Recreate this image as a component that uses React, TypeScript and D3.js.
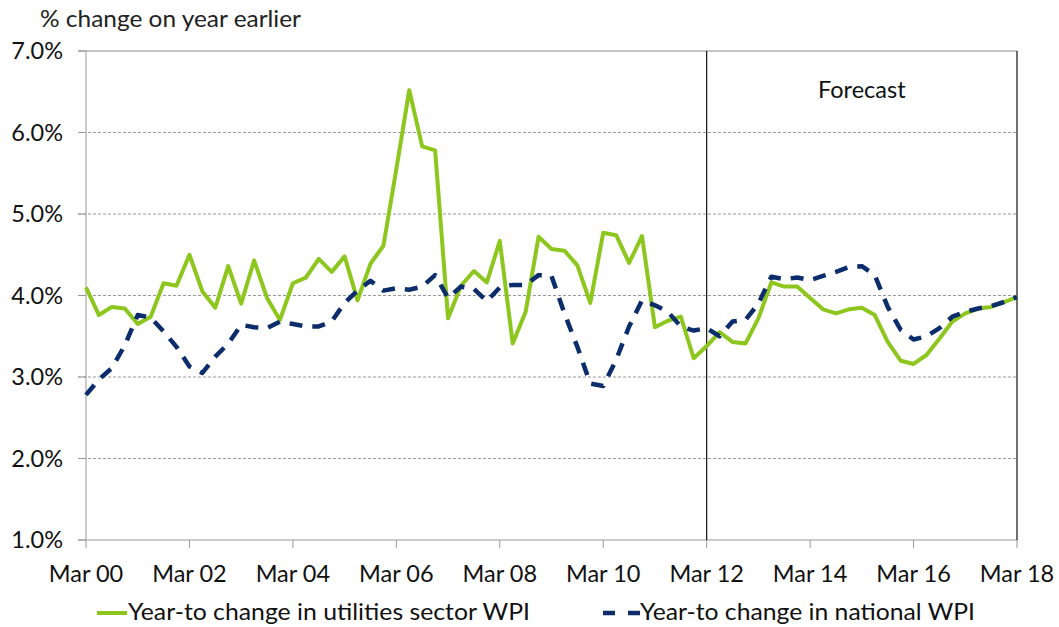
import * as d3 from 'd3';

// quarterly, Mar 00 .. Mar 18
const utilities = [
  4.10, 3.76, 3.86, 3.84, 3.65, 3.74, 4.15, 4.12, 4.50, 4.05, 3.85, 4.36, 3.90, 4.43, 3.97, 3.70,
  4.15, 4.22, 4.45, 4.29, 4.48, 3.94, 4.39, 4.61, 5.55, 6.52, 5.83, 5.78, 3.72, 4.12, 4.30, 4.16,
  4.67, 3.41, 3.80, 4.72, 4.57, 4.55, 4.37, 3.91, 4.77, 4.74, 4.40, 4.73, 3.61, 3.69, 3.74, 3.23,
  3.38, 3.55, 3.43, 3.41, 3.72, 4.16, 4.11, 4.11, 3.97, 3.83, 3.78, 3.83, 3.85, 3.76, 3.43, 3.20,
  3.16, 3.27, 3.47, 3.68, 3.78, 3.84, 3.86, 3.92, 3.98,
];
const national = [
  2.78, 2.97, 3.11, 3.39, 3.76, 3.73, 3.56, 3.37, 3.13, 3.05, 3.25, 3.41, 3.64, 3.61, 3.60, 3.68,
  3.65, 3.62, 3.62, 3.68, 3.91, 4.06, 4.18, 4.06, 4.09, 4.07, 4.11, 4.25, 3.97, 4.11, 4.08, 3.93,
  4.10, 4.13, 4.13, 4.25, 4.24, 3.78, 3.37, 2.92, 2.89, 3.21, 3.62, 3.94, 3.88, 3.80, 3.62, 3.57,
  3.60, 3.50, 3.68, 3.70, 3.90, 4.23, 4.20, 4.22, 4.19, 4.24, 4.29, 4.35, 4.36, 4.25, 3.86, 3.58,
  3.46, 3.50, 3.60, 3.74, 3.80, 3.84, 3.87, 3.92, 3.98,
];
const xTickLabels = ['Mar 00', 'Mar 02', 'Mar 04', 'Mar 06', 'Mar 08', 'Mar 10', 'Mar 12', 'Mar 14', 'Mar 16', 'Mar 18'];
const yTicks = [1, 2, 3, 4, 5, 6, 7];
const forecastStart = 'Mar 12';
const seriesNames = ['Year-to change in utilities sector WPI', 'Year-to change in national WPI'];

const W = 1059;
const H = 627;
const margin = { top: 51, right: 42, bottom: 87, left: 86 };
const font = 'Lato, "Open Sans", sans-serif';
const green = '#8DC71E';
const navy = '#0C2D6B';

export default function App() {
  const x = d3.scaleLinear()
    .domain([0, utilities.length - 1])
    .range([margin.left, W - margin.right]);
  const y = d3.scaleLinear()
    .domain([1, 7])
    .range([H - margin.bottom, margin.top]);

  const line = d3.line<number>()
    .x((_, i) => x(i))
    .y(d => y(d));

  const fmt = d3.format('.1%');
  const tickIdx = (i: number) => i * 8;
  const fcX = x(tickIdx(xTickLabels.indexOf(forecastStart)));

  return (
    <svg width={W} height={H} style={{ position: 'absolute', left: 0, top: 0, background: '#fff' }}>
      <text x={40} y={27} fontFamily={font} fontSize={24} fill="#222" textLength={261} lengthAdjust="spacingAndGlyphs">% change on year earlier</text>

      {/* grid + y ticks */}
      {yTicks.map(t => (
        <g key={t}>
          {t > 1 && (
            <line x1={78} x2={W - margin.right} y1={y(t)} y2={y(t)}
              stroke={t === 7 ? '#888' : '#999'} strokeWidth={1}
              strokeDasharray={t === 7 ? undefined : '3 2'} />
          )}
          <line x1={78} x2={margin.left} y1={y(t)} y2={y(t)} stroke="#999" />
          <text x={63} y={y(t)} dy="0.35em" textAnchor="end" fontFamily={font} fontSize={23.5} fill="#111">
            {fmt(t / 100)}
          </text>
        </g>
      ))}

      {/* axes */}
      <line x1={margin.left} x2={margin.left} y1={margin.top} y2={H - margin.bottom} stroke="#999" />
      <line x1={78} x2={W - margin.right} y1={y(1)} y2={y(1)} stroke="#999" />
      {xTickLabels.map((lab, i) => (
        <g key={lab}>
          <line x1={x(tickIdx(i))} x2={x(tickIdx(i))} y1={y(1)} y2={y(1) + 8} stroke="#999" />
          <text x={x(tickIdx(i))} y={582} textAnchor="middle" fontFamily={font} fontSize={23.5} fill="#111">{lab}</text>
        </g>
      ))}

      {/* forecast box */}
      <line x1={fcX} x2={fcX} y1={margin.top} y2={y(1)} stroke="#111" strokeWidth={1.2} />
      <line x1={W - margin.right} x2={W - margin.right} y1={margin.top} y2={y(1)} stroke="#111" strokeWidth={1.2} />
      <text x={(fcX + W - margin.right) / 2} y={98} textAnchor="middle" fontFamily={font} fontSize={23.5} fill="#111">Forecast</text>

      {/* series */}
      <path d={line(utilities) || ''} fill="none" stroke={green} strokeWidth={4} strokeLinejoin="round" />
      <path d={line(national) || ''} fill="none" stroke={navy} strokeWidth={4.5} strokeDasharray="13 10" strokeLinejoin="round" />

      {/* legend */}
      <line x1={97} x2={127} y1={613} y2={613} stroke={green} strokeWidth={4} />
      <text x={128} y={620} fontFamily={font} fontSize={23} fill="#111" textLength={402} lengthAdjust="spacingAndGlyphs">{seriesNames[0]}</text>
      <line x1={603} x2={640} y1={613} y2={613} stroke={navy} strokeWidth={4.5} strokeDasharray="12 13" />
      <text x={640} y={620} fontFamily={font} fontSize={23} fill="#111" textLength={335} lengthAdjust="spacingAndGlyphs">{seriesNames[1]}</text>
    </svg>
  );
}
